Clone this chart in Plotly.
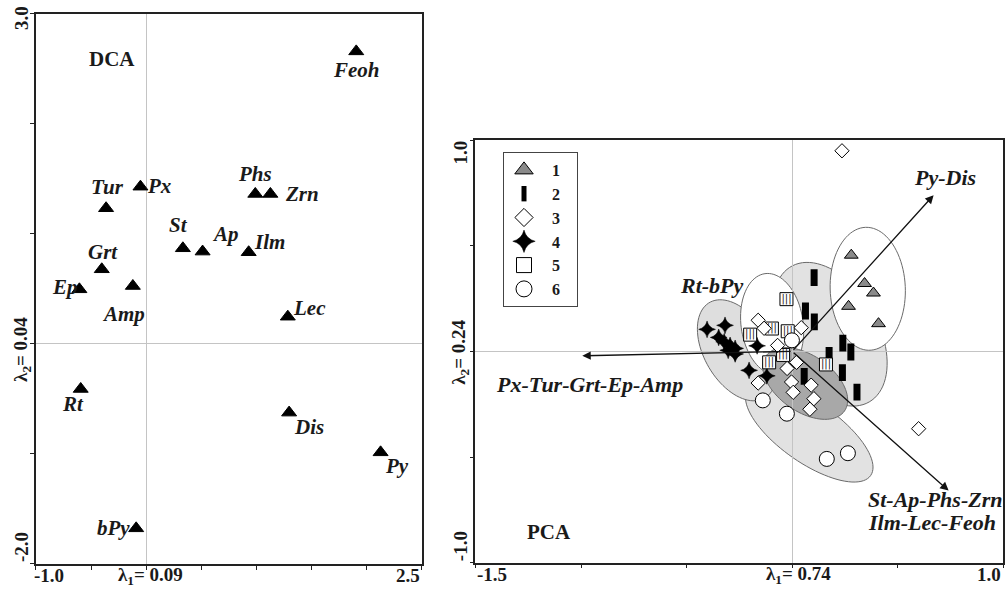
import numpy as np
import plotly.graph_objects as go

# ---------------- DATA ----------------
# DCA (left panel): species scores
dca_names = ["Feoh", "Px", "Tur", "Phs", "Zrn", "St", "Ap", "Ilm", "Grt", "Ep",
             "Amp", "Lec", "Rt", "Dis", "Py", "bPy"]
dca_x = [1.906, -0.052, -0.364, 0.990, 1.127, 0.333, 0.512, 0.930, -0.403, -0.606,
         -0.121, 1.285, -0.594, 1.297, 2.127, -0.091]
dca_y = [2.660, 1.430, 1.234, 1.364, 1.364, 0.870, 0.840, 0.834, 0.679, 0.497,
         0.527, 0.248, -0.409, -0.624, -0.985, -1.676]

# PCA (right panel): sample scores per group
g1_x = [0.280, 0.343, 0.385, 0.267, 0.409]
g1_y = [0.455, 0.321, 0.276, 0.213, 0.131]
g2_x = [0.104, 0.063, 0.105, 0.240, 0.278, 0.175, 0.238, 0.307, 0.057]
g2_y = [0.349, 0.191, 0.139, 0.039, -0.003, -0.019, -0.101, -0.193, -0.118]
g3_x = [-0.161, -0.133, 0.043, -0.069, 0.021, -0.024, -0.161, -0.003, 0.005,
        0.090, 0.103, 0.084, 0.236, 0.599]
g3_y = [0.147, 0.109, 0.112, 0.028, -0.052, -0.081, -0.150, -0.145, -0.194,
        -0.160, -0.224, -0.274, 0.949, -0.366]
g4_x = [-0.403, -0.318, -0.348, -0.322, -0.294, -0.270, -0.303, -0.270, -0.166,
        -0.204, -0.120]
g4_y = [0.104, 0.123, 0.066, 0.045, 0.028, 0.014, 0.005, -0.012, 0.026,
        -0.090, -0.116]
g5_x = [-0.027, -0.199, -0.096, -0.021, -0.109, -0.043, 0.160]
g5_y = [0.247, 0.079, 0.108, 0.095, -0.052, -0.017, -0.062]
g6_x = [-0.001, -0.139, -0.025, 0.164, 0.264]
g6_y = [0.052, -0.232, -0.295, -0.509, -0.482]
group_names = ["1", "2", "3", "4", "5", "6"]

# PCA loading vectors (tips), drawn from the origin
loading_names = ["Py-Dis", "St-Ap-Phs-Zrn", "Px-Tur-Grt-Ep-Amp"]
loading_x = [0.670, 0.741, -0.994]
loading_y = [0.739, -0.659, -0.021]
loading_origin = (0.0, 0.0)

# group envelopes: centre x, centre y, semi-axis a, semi-axis b, angle (deg)
env_cx = [0.081, 0.180, -0.261, 0.358, -0.095, 0.062]
env_cy = [-0.384, 0.081, 0.005, 0.296, 0.128, -0.152]
env_a = [0.355, 0.370, 0.261, 0.291, 0.242, 0.227]
env_b = [0.142, 0.227, 0.156, 0.178, 0.147, 0.133]
env_ang = [-35, -60, -60, 92, 98, -35]
env_fill = ["#e2e2e2", "#e2e2e2", "#dedede", "#ffffff", "#ffffff", "#a8a8a8"]

# ---------------- STYLE ----------------
SERIF = "Liberation Serif"
INK = "#1a1a1a"
lab_font_l = dict(family=SERIF, size=21, color=INK, weight="bold", style="italic")
lab_font_r = dict(family=SERIF, size=22, color=INK, weight="bold", style="italic")
tick_font = dict(family=SERIF, size=19, color=INK, weight="bold")

# pixel offsets of DCA labels (dx right, dy down)
dca_dx = [0, 19, 1.5, 0, 31.5, -4.7, 22.7, 21, 1, -14, -9, 22, -8, 19.5, 16.5, -23]
dca_dy = [18.5, -1, -21, -20, 0, -23, -18, -10, -17, -2, 28, -9, 15, 14, 14, 0]

# marker styles per group (data traces, then bigger legend swatches)
g_style = {
    "1": dict(symbol="triangle-up", size=12, color="#8a8a8a", line=dict(color="black", width=1)),
    "2": dict(symbol="line-ns-open", size=12, color="black", line=dict(color="black", width=7)),
    "3": dict(symbol="diamond", size=11, color="white", line=dict(color="black", width=1)),
    "4": dict(symbol="star-diamond", size=12, color="black", line=dict(color="black", width=0.5)),
    "5": dict(symbol="square", size=13, color="white", line=dict(color="black", width=1)),
    "6": dict(symbol="circle", size=15, color="white", line=dict(color="black", width=1)),
}
leg_size = {"1": 16, "2": 11, "3": 14, "4": 16, "5": 15, "6": 16}

fig = go.Figure()

# left panel points
fig.add_trace(go.Scatter(
    x=dca_x, y=dca_y, mode="markers", xaxis="x", yaxis="y", showlegend=False,
    marker=dict(symbol="triangle-up", size=13, color="black",
                line=dict(color="black", width=1)),
    hoverinfo="skip"))

# right panel points
data_by_group = {"1": (g1_x, g1_y), "2": (g2_x, g2_y), "3": (g3_x, g3_y),
                 "4": (g4_x, g4_y), "5": (g5_x, g5_y), "6": (g6_x, g6_y)}
draw_order = ["1", "2", "4", "5", "6", "3"]
for g in draw_order:
    gx, gy = data_by_group[g]
    fig.add_trace(go.Scatter(x=gx, y=gy, mode="markers", xaxis="x2", yaxis="y2",
                             legendgroup=g, showlegend=False, hoverinfo="skip",
                             marker=g_style[g]))
    if g == "5":
        fig.add_trace(go.Scatter(x=g5_x, y=g5_y, mode="text", text=["|||"] * len(g5_x),
                                 textposition="middle center", xaxis="x2", yaxis="y2",
                                 textfont=dict(family="DejaVu Sans", size=10, color="#222"),
                                 showlegend=False, hoverinfo="skip", legendgroup=g))

# legend entries (empty traces carrying the swatches)
for i, g in enumerate(group_names):
    st = dict(g_style[g])
    st["size"] = leg_size[g]
    if g == "2":
        st["line"] = dict(color="black", width=5)
    fig.add_trace(go.Scatter(x=[None], y=[None], mode="markers", xaxis="x2", yaxis="y2",
                             name="\u00a0\u00a0" + g + "\u00a0\u00a0\u00a0",
                             legendgroup=g, legendrank=i + 1, marker=st,
                             hoverinfo="skip"))

# envelopes
shapes = []
t = np.linspace(0, 2 * np.pi, 90)
for cx, cy, a, b, ang, fc in zip(env_cx, env_cy, env_a, env_b, env_ang, env_fill):
    th = np.deg2rad(ang)
    px = cx + a * np.cos(t) * np.cos(th) - b * np.sin(t) * np.sin(th)
    py = cy + a * np.cos(t) * np.sin(th) + b * np.sin(t) * np.cos(th)
    path = "M " + " L ".join(f"{u:.4f},{v:.4f}" for u, v in zip(px, py)) + " Z"
    shapes.append(dict(type="path", path=path, xref="x2", yref="y2", layer="below",
                       fillcolor=fc, line=dict(color="#6a6a6a", width=1)))

annotations = []
# DCA labels
for n, x, y, dx, dy in zip(dca_names, dca_x, dca_y, dca_dx, dca_dy):
    annotations.append(dict(x=x, y=y, xref="x", yref="y", text=n, showarrow=False,
                            xshift=dx, yshift=-dy, font=lab_font_l))

# loading arrows
for lx, ly in zip(loading_x, loading_y):
    annotations.append(dict(x=lx, y=ly, ax=loading_origin[0], ay=loading_origin[1],
                            xref="x2", yref="y2", axref="x2", ayref="y2", text="",
                            showarrow=True, arrowhead=2, arrowsize=1.3, arrowwidth=1.3,
                            arrowcolor="#111", standoff=0))
# loading labels
annotations.append(dict(x=loading_x[0], y=loading_y[0], xref="x2", yref="y2",
                        text=loading_names[0], showarrow=False, xshift=11, yshift=17.5,
                        font=lab_font_r))
annotations.append(dict(x=loading_x[1], y=loading_y[1], xref="x2", yref="y2",
                        text=loading_names[1], showarrow=False, xanchor="left",
                        xshift=-83, yshift=-9, font=lab_font_r))
annotations.append(dict(x=loading_x[1], y=loading_y[1], xref="x2", yref="y2",
                        text="Ilm-Lec-Feoh", showarrow=False, xanchor="left",
                        xshift=-83, yshift=-32, font=lab_font_r))
annotations.append(dict(x=loading_x[2], y=loading_y[2], xref="x2", yref="y2",
                        text=loading_names[2], showarrow=False, xshift=7, yshift=-29,
                        font=lab_font_r))
annotations.append(dict(x=0.448, y=0.689, xref="x2 domain", yref="y2 domain",
                        text="Rt-bPy", showarrow=False, font=lab_font_r))

# panel titles
annotations.append(dict(x=0.131, y=0.9436, xref="x domain", yref="y domain", text="DCA",
                        showarrow=False,
                        font=dict(family=SERIF, size=21, color=INK, weight="bold")))
annotations.append(dict(x=0.094, y=0.0395, xref="x2 domain", yref="y2 domain", text="PCA",
                        showarrow=False,
                        font=dict(family=SERIF, size=21, color=INK, weight="bold")))

# axis end labels and eigenvalue labels
def xlab(ax, x, text, anchor, shift):
    annotations.append(dict(x=x, y=0, xref=ax, yref=("y" if ax == "x" else "y2") + " domain",
                            text=text, showarrow=False, xanchor=anchor, xshift=shift,
                            yanchor="middle", yshift=-12, font=tick_font))

def ylab(ax, y, text, anchor, shift, xs):
    annotations.append(dict(x=0, y=y, xref=("x" if ax == "y" else "x2") + " domain", yref=ax,
                            text=text, showarrow=False, textangle=-90, xanchor="center",
                            xshift=xs, yanchor=anchor, yshift=shift, font=tick_font))

xlab("x", -1.0, "-1.0", "left", -4)
xlab("x", 0.0, "\u03bb<sub>1</sub>= 0.09", "center", 4)
xlab("x", 2.5, "2.5", "right", 0)
ylab("y", 3.0, "3.0", "top", 10, -14)
ylab("y", 0.0, "\u03bb<sub>2</sub>= 0.04", "middle", -5, -14)
ylab("y", -2.0, "-2.0", "bottom", 0, -14)
xlab("x2", -1.5, "-1.5", "left", 0)
xlab("x2", 0.0, "\u03bb<sub>1</sub>= 0.74", "center", 6)
xlab("x2", 1.0, "1.0", "right", 0)
ylab("y2", 1.0, "1.0", "top", 2, -15)
ylab("y2", 0.0, "\u03bb<sub>2</sub>= 0.24", "middle", -1, -15)
ylab("y2", -1.0, "-1.0", "bottom", 0, -15)

axis_style = dict(showgrid=False, showticklabels=False, ticks="outside", ticklen=4,
                  tickcolor="#222", tickwidth=1.2, showline=True, mirror=True,
                  linecolor="#222", linewidth=1.5, zeroline=True,
                  zerolinecolor="#c4c4c4", zerolinewidth=1, tickmode="array")

fig.update_layout(
    width=1005, height=590,
    margin=dict(l=0, r=0, t=0, b=0),
    paper_bgcolor="white", plot_bgcolor="white",
    xaxis=dict(domain=[0.0358, 0.4196], range=[-1.0, 2.5], anchor="y",
               tickvals=list(np.arange(-1.0, 2.51, 0.5)), **axis_style),
    yaxis=dict(domain=[0.0441, 0.9763], range=[-2.0, 3.0], anchor="x",
               tickvals=[-2, -1, 0, 1, 2, 3], **axis_style),
    xaxis2=dict(domain=[0.4731, 0.9983], range=[-1.5, 1.0], anchor="y2",
                tickvals=list(np.arange(-1.5, 1.01, 0.5)), **axis_style),
    yaxis2=dict(domain=[0.0463, 0.7627], range=[-1.0, 1.0], anchor="x2",
                tickvals=[-1, -0.5, 0, 0.5, 1], **axis_style),
    shapes=shapes,
    annotations=annotations,
    showlegend=True,
    legend=dict(x=0.5005, y=0.7424, xanchor="left", yanchor="top",
                bgcolor="white", bordercolor="#444", borderwidth=1,
                font=dict(family=SERIF, size=16, color=INK, weight="bold"),
                tracegroupgap=0, itemsizing="trace"),
)

fig.write_html("out.html", config={"displayModeBar": False},
               post_script="document.body.style.margin='0';document.body.style.overflow='hidden';")
